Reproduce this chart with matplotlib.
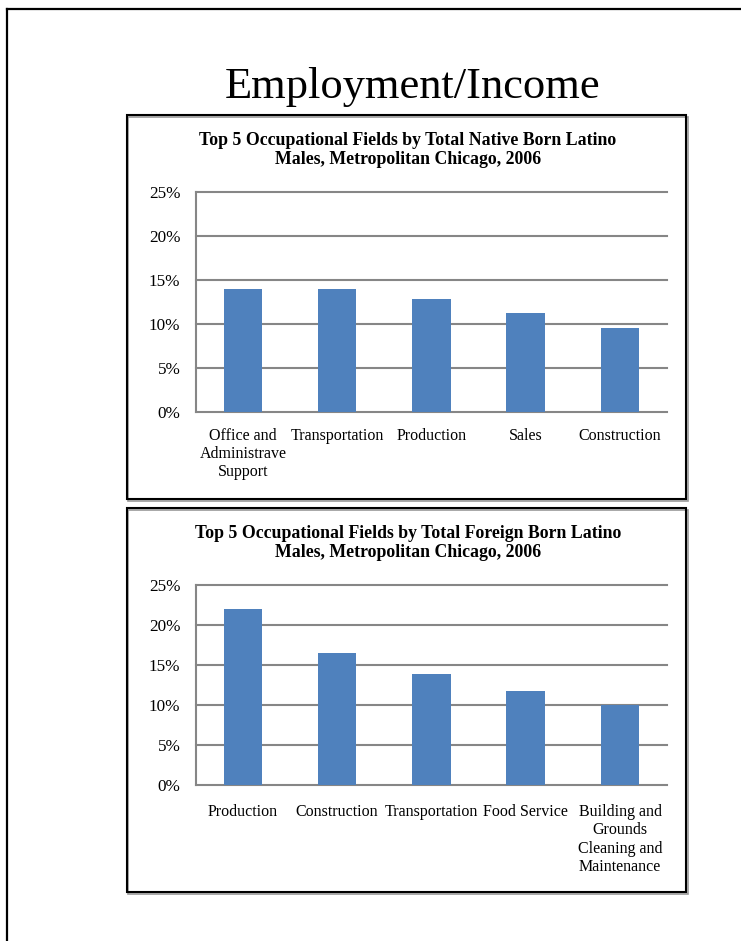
import matplotlib
matplotlib.use("Agg")
import matplotlib.pyplot as plt
from matplotlib.patches import Rectangle
from matplotlib.lines import Line2D
from matplotlib.ticker import PercentFormatter

plt.rcParams['font.family'] = ['Liberation Serif', 'DejaVu Serif']

page_title = "Employment/Income"

native_title = "Top 5 Occupational Fields by Total Native Born Latino\nMales, Metropolitan Chicago, 2006"
native_cats = ["Office and\nAdministrave\nSupport", "Transportation", "Production", "Sales", "Construction"]
native_vals = [14.0, 14.0, 12.8, 11.2, 9.5]

foreign_title = "Top 5 Occupational Fields by Total Foreign Born Latino\nMales, Metropolitan Chicago, 2006"
foreign_cats = ["Production", "Construction", "Transportation", "Food Service",
                "Building and\nGrounds\nCleaning and\nMaintenance"]
foreign_vals = [22.0, 16.5, 13.9, 11.7, 10.0]

y_ticks = [0, 5, 10, 15, 20, 25]

W, H = 741, 941
fig = plt.figure(figsize=(W / 100, H / 100), dpi=100)
fig.patch.set_facecolor('white')

def fx(px):
    return px / W

def fy(py):
    return 1 - py / H

# outer page frame (left and top edges)
fig.add_artist(Line2D([fx(6.5), fx(6.5)], [fy(8.5), 0], transform=fig.transFigure,
                      color='black', lw=1.6))
fig.add_artist(Line2D([fx(6.5), 1], [fy(8.5), fy(8.5)], transform=fig.transFigure,
                      color='black', lw=1.6))

fig.text(fx(413), fy(98), page_title, ha='center', va='baseline', fontsize=32)

bar_color = '#4F81BD'
grid_color = '#868686'

def box(top, bottom):
    left, right = 126.5, 686
    fig.add_artist(Rectangle((fx(left + 1.5), fy(bottom + 1.5)), fx(right - left), (bottom - top) / H,
                             transform=fig.transFigure, facecolor='none',
                             edgecolor='#9a9a9a', lw=1.2, zorder=0))
    fig.add_artist(Rectangle((fx(left), fy(bottom)), fx(right - left), (bottom - top) / H,
                             transform=fig.transFigure, facecolor='none',
                             edgecolor='black', lw=1.5, zorder=1))

def chart(rect, title, title_y, cats, vals, label_pad, label_ls):
    ax = fig.add_axes(rect)
    x = list(range(len(cats)))
    ax.bar(x, vals, width=0.41, color=bar_color, zorder=3)
    ax.set_xlim(-0.5, len(cats) - 0.5)
    ax.set_ylim(0, 25)
    ax.set_yticks(y_ticks)
    ax.yaxis.set_major_formatter(PercentFormatter(decimals=0))
    ax.set_xticks(x)
    ax.set_xticklabels(cats, fontsize=11.5, linespacing=label_ls)
    ax.tick_params(axis='y', labelsize=12.3, length=0, pad=11)
    ax.tick_params(axis='x', length=0, pad=label_pad)
    ax.grid(axis='y', color=grid_color, lw=1.5, zorder=1)
    for gl in ax.get_ygridlines():
        gl.set_clip_on(False)
    for s in ['top', 'right', 'bottom']:
        ax.spines[s].set_visible(False)
    ax.spines['left'].set_color(grid_color)
    ax.spines['left'].set_linewidth(1.5)
    ax.set_facecolor('none')
    fig.text(fx(408), fy(title_y), title, ha='center', va='center',
             fontsize=12.8, fontweight='bold', linespacing=1.2)
    return ax

box(115, 499)
chart([fx(195.7), fy(411.7), fx(471.5), 220 / H], native_title, 150,
      native_cats, native_vals, 12, 1.17)

box(508, 892)
chart([fx(195.7), fy(785), fx(471.5), 200 / H], foreign_title, 543,
      foreign_cats, foreign_vals, 13.5, 1.2)

fig.savefig("out.png", dpi=100)
